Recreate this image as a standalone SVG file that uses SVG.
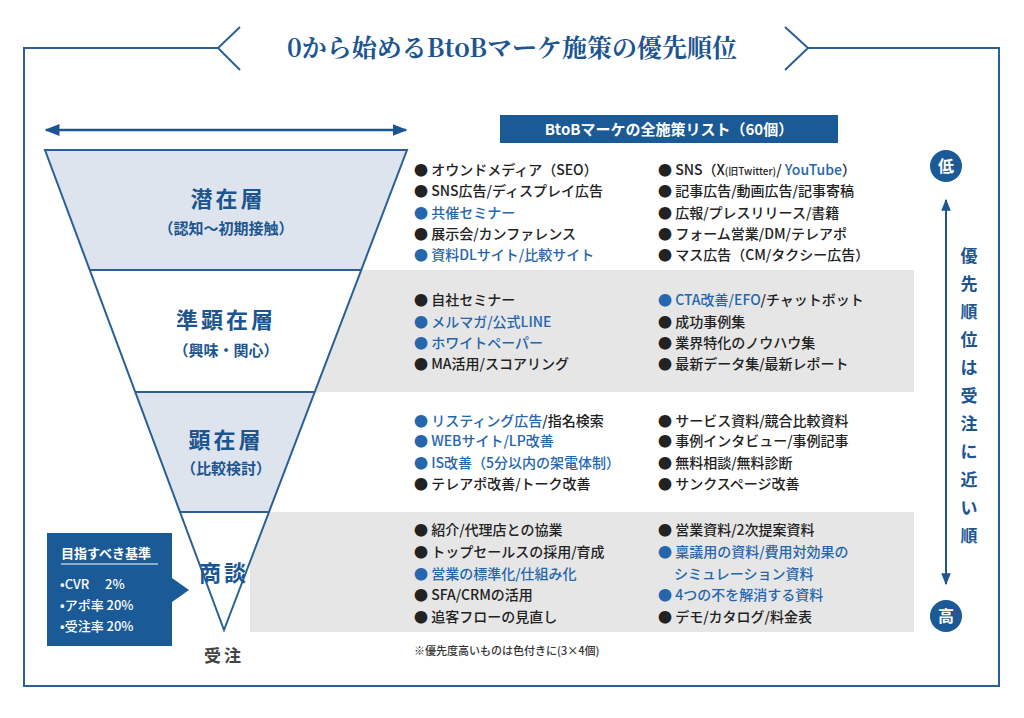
<svg xmlns="http://www.w3.org/2000/svg" width="1024" height="718" viewBox="0 0 1024 718">
<style>
text{font-family:"Noto Sans CJK JP","Noto Sans",sans-serif}
.it{font-size:14px;fill:#222;font-weight:500}
.b{fill:#2566ad}
.lay{font-size:22px;font-weight:700;fill:#1c5590;text-anchor:middle;letter-spacing:3px}
.sub{font-size:15px;font-weight:700;fill:#1c5590;text-anchor:middle}
.ln{stroke:#2a5f98;stroke-width:2;fill:none}
</style>
<defs>
<marker id="ah" viewBox="0 0 10 10" refX="9" refY="5" markerWidth="6" markerHeight="6" orient="auto-start-reverse"><path d="M0,1 L10,5 L0,9 z" fill="#1c5590"/></marker>
</defs>
<rect width="1024" height="718" fill="#fff"/>
<g id="frame">
<path class="ln" d="M218,48 H24 V686 H999 V48 H808" stroke-width="1.5"/>
<path class="ln" d="M240,27 L218,48 L240,70 M785,27 L808,48 L785,70" stroke-width="1.5"/>
<text x="512" y="57" text-anchor="middle" style="font-family:'Noto Serif CJK JP','Liberation Serif',serif;font-size:25px;font-weight:700;fill:#1c5590">0から始めるBtoBマーケ施策の優先順位</text>
</g>
<g id="bands">
<rect x="300" y="270" width="614" height="122" fill="#e6e6e6"/>
<rect x="250" y="512" width="664" height="120" fill="#e6e6e6"/>
</g>
<g id="funnel">
<polygon points="45,150 407,150 361,270 90,270" fill="#dde4ee"/>
<polygon points="90,270 361,270 315,392 135,392" fill="#fff"/>
<polygon points="135,392 315,392 269,512 180,512" fill="#dde4ee"/>
<polygon points="180,512 269,512 224,630" fill="#fff"/>
<path class="ln" d="M45,150 H407 L224,630 Z M90,270 H361 M135,392 H315 M180,512 H269"/>
</g>
<g id="connectors">
<line x1="46" y1="130" x2="406" y2="130" stroke="#1c5590" stroke-width="2.5" marker-start="url(#ah)" marker-end="url(#ah)"/>
<line x1="946" y1="200" x2="946" y2="584" stroke="#1c5590" stroke-width="2" marker-start="url(#ah)" marker-end="url(#ah)"/>
</g>
<g id="labels">
<text class="lay" x="228" y="207">潜在層</text>
<text class="sub" x="226" y="234">（認知〜初期接触）</text>
<text class="lay" x="226" y="328">準顕在層</text>
<text class="sub" x="226" y="356">（興味・関心）</text>
<text class="lay" x="226" y="448">顕在層</text>
<text class="sub" x="226" y="474">（比較検討）</text>
<text class="lay" x="224" y="581">商談</text>
<text x="224" y="662" text-anchor="middle" style="font-size:17px;font-weight:700;fill:#444;letter-spacing:3px">受注</text>
</g>
<g id="header">
<rect x="500" y="115" width="338" height="28" fill="#1a5a96"/>
<text x="669" y="135" text-anchor="middle" style="font-size:15px;font-weight:700;fill:#fff">BtoBマーケの全施策リスト（60個）</text>
</g>
<g id="callout">
<path d="M47,533 H172 V578 L189,590 L172,602 V646 H47 Z" fill="#1a5a96"/>
<text x="61" y="558" style="font-size:13px;font-weight:700;fill:#fff">目指すべき基準</text>
<line x1="61" y1="564" x2="158" y2="564" stroke="#fff" stroke-width="1.2"/>
<text x="60" y="589" style="font-size:13px;font-weight:500;fill:#fff">•CVR　  2%</text>
<text x="60" y="610" style="font-size:13px;font-weight:500;fill:#fff">•アポ率 20%</text>
<text x="60" y="631" style="font-size:13px;font-weight:500;fill:#fff">•受注率 20%</text>
</g>
<g id="scale">
<circle cx="946" cy="166" r="16" fill="#1a5a96"/>
<text x="946" y="172" text-anchor="middle" style="font-size:16px;font-weight:700;fill:#fff">低</text>
<circle cx="946" cy="616" r="16" fill="#1a5a96"/>
<text x="946" y="622" text-anchor="middle" style="font-size:16px;font-weight:700;fill:#fff">高</text>
<text style="font-size:17px;font-weight:700;fill:#1c5590" text-anchor="middle">
<tspan x="969" y="262">優</tspan><tspan x="969" y="290">先</tspan><tspan x="969" y="318">順</tspan><tspan x="969" y="346">位</tspan><tspan x="969" y="374">は</tspan><tspan x="969" y="402">受</tspan><tspan x="969" y="430">注</tspan><tspan x="969" y="458">に</tspan><tspan x="969" y="486">近</tspan><tspan x="969" y="514">い</tspan><tspan x="969" y="542">順</tspan>
</text>
</g>
<g id="list" class="it">
<text class="it" x="414" y="175">● オウンドメディア（SEO）</text>
<text class="it" x="414" y="196">● SNS広告/ディスプレイ広告</text>
<text class="it b" x="414" y="218">● 共催セミナー</text>
<text class="it" x="414" y="239">● 展示会/カンファレンス</text>
<text class="it b" x="414" y="260">● 資料DLサイト/比較サイト</text>
<text class="it" x="658" y="175">● SNS（X<tspan style="font-size:10px">(旧Twitter)</tspan>/ <tspan class="b">YouTube</tspan>）</text>
<text class="it" x="658" y="196">● 記事広告/動画広告/記事寄稿</text>
<text class="it" x="658" y="218">● 広報/プレスリリース/書籍</text>
<text class="it" x="658" y="239">● フォーム営業/DM/テレアポ</text>
<text class="it" x="658" y="260">● マス広告（CM/タクシー広告）</text>

<text class="it" x="414" y="305">● 自社セミナー</text>
<text class="it b" x="414" y="327">● メルマガ/公式LINE</text>
<text class="it b" x="414" y="348">● ホワイトペーパー</text>
<text class="it" x="414" y="369">● MA活用/スコアリング</text>
<text class="it" x="658" y="305"><tspan class="b">● CTA改善/EFO</tspan>/チャットボット</text>
<text class="it" x="658" y="327">● 成功事例集</text>
<text class="it" x="658" y="348">● 業界特化のノウハウ集</text>
<text class="it" x="658" y="369">● 最新データ集/最新レポート</text>

<text class="it" x="414" y="426"><tspan class="b">● リスティング広告</tspan>/指名検索</text>
<text class="it b" x="414" y="446">● WEBサイト/LP改善</text>
<text class="it b" x="414" y="468">● IS改善（5分以内の架電体制）</text>
<text class="it" x="414" y="489">● テレアポ改善/トーク改善</text>
<text class="it" x="658" y="426">● サービス資料/競合比較資料</text>
<text class="it" x="658" y="446">● 事例インタビュー/事例記事</text>
<text class="it" x="658" y="468">● 無料相談/無料診断</text>
<text class="it" x="658" y="489">● サンクスページ改善</text>

<text class="it" x="414" y="535">● 紹介/代理店との協業</text>
<text class="it" x="414" y="557">● トップセールスの採用/育成</text>
<text class="it b" x="414" y="579">● 営業の標準化/仕組み化</text>
<text class="it" x="414" y="600">● SFA/CRMの活用</text>
<text class="it" x="414" y="622">● 追客フローの見直し</text>
<text class="it" x="658" y="535">● 営業資料/2次提案資料</text>
<text class="it b" x="658" y="557">● 稟議用の資料/費用対効果の</text>
<text class="it b" x="674" y="579">シミュレーション資料</text>
<text class="it b" x="658" y="600">● 4つの不を解消する資料</text>
<text class="it" x="658" y="622">● デモ/カタログ/料金表</text>
<text x="414" y="655" style="font-size:11px;fill:#333">※優先度高いものは色付きに(3×4個)</text>
</g>
</svg>
